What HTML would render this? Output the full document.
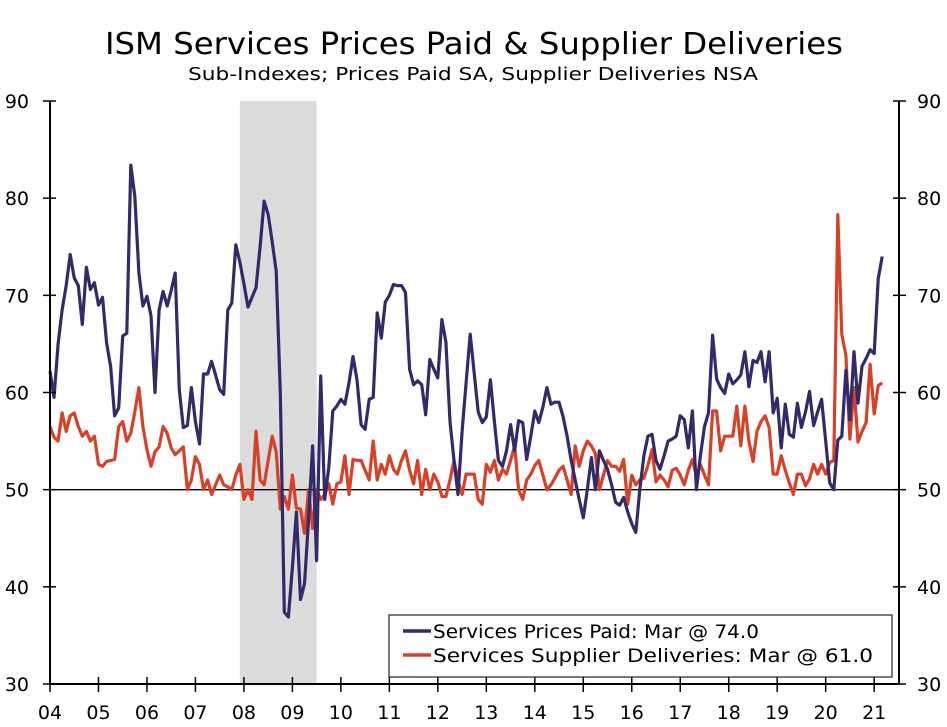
<!DOCTYPE html>
<html><head><meta charset="utf-8"><style>
html,body{margin:0;padding:0;background:#fff;}
svg{display:block;font-family:"DejaVu Sans","Liberation Sans",sans-serif;}
</style></head><body>
<svg id="chart" width="947" height="727" viewBox="0 0 947 727">
<text x="474" y="54" text-anchor="middle" font-size="30" textLength="738" lengthAdjust="spacingAndGlyphs" fill="#000">ISM Services Prices Paid &amp; Supplier Deliveries</text>
<text x="473" y="80" text-anchor="middle" font-size="18" textLength="570" lengthAdjust="spacingAndGlyphs" fill="#000">Sub-Indexes; Prices Paid SA, Supplier Deliveries NSA</text>
<g id="plot"></g>
</svg>
<script>
const startYear = 2004;
const yTicks = [30, 40, 50, 60, 70, 80, 90];
const xTickLabels = ["04","05","06","07","08","09","10","11","12","13","14","15","16","17","18","19","20","21"];
const recessionStart = 47; // month index Dec 2007
const recessionEnd = 66;   // month index Jun 2009
const pricesPaid = [
62.2,59.5,65,68.5,71,74.2,71.8,71,67,72.9,70.6,71.3,
69,69.8,65.1,62.7,57.6,58.4,65.8,66.1,83.4,80.2,72.3,68.9,
69.9,67.9,60,68.5,70.4,68.9,70.5,72.3,60.3,56.4,56.6,60.5,
57,54.7,61.9,61.9,63.2,61.8,60.3,59.8,68.5,69.2,75.2,73.4,
71.2,68.8,69.8,70.8,75,79.7,78.3,75.5,72.5,60,37.4,36.9,
42,47.7,38.7,40.3,47,54.5,42.7,61.7,49,52.3,58.1,58.6,
59.3,58.8,61,63.7,61.3,56.7,56.2,59.3,59.5,68.2,65.6,69.3,
70,71.1,71,71,70.3,62.4,60.8,61.2,60.8,57.7,63.4,62.4,
61.5,67.5,65.2,57,53,49.5,56,61,66,62,58,56.9,
57.5,61.3,57,53,52.4,54,56.7,54,57.1,56.9,53.1,55.5,
58.1,56.9,58.5,60.5,58.8,59,59,57.5,55.5,53,51,49,
47.1,50,53.3,50,54,53,52.1,50.5,48.7,48.4,49.2,47.7,
46.5,45.6,50,53.5,55.5,55.7,53,52.1,53.5,55,55.2,55.5,
57.6,57.2,54.3,58.1,50,53.5,56.5,57.9,65.9,61.4,60.5,59.9,
61.9,60.9,61.3,61.8,64.2,60.6,63.3,63.1,64.2,61.1,64.2,57.9,
59.4,54.3,58.8,55.7,55.4,58.9,56.4,58,60.1,56.6,58,59.3,
55,50.7,50,55.1,55.5,62.3,57.2,64.2,58.9,62.7,63.5,64.4,
64,71.7,74
];
const supplierDeliveries = [
56.5,55.4,55,57.9,56,57.6,57.9,56.5,55.5,56,55,55.5,
52.6,52.4,52.9,53,53.1,56.5,57,55,55.8,58,60.5,56.5,
54.1,52.4,53.9,54.4,56.5,55.8,54.3,53.6,54,54.4,50,51,
53.4,52.6,50,51,49.5,50.5,51.5,50.5,50.3,50,51.5,52.6,
49,50,49,56,51,50.5,53,55.5,53.9,48,49.3,48,
51.5,48.1,48,45.5,50,46,50,49,49.5,50.6,48.5,50.6,
50.8,53.5,49.5,53.1,53,53,52,51,55,51,52.6,51.6,
53.5,52.1,51.6,53,54,52,50.6,53,49.5,52.1,50,51.6,
50.8,49.3,49.3,51,53,51,49.5,51.6,51.6,51.6,49,48.5,
52.6,51.8,53,51,52.1,51.6,53,54.5,50,49,51,51.6,
52.5,53,51.5,50,50.5,51.2,52,52.4,51,49.5,54.5,52.4,
54,55,54.5,53.7,50,51.5,53,52.4,52.4,51.9,53.1,48.5,
51.5,50.5,51,51.2,52.5,54.1,50.8,51.5,51,50.3,52,52.2,
51.5,50.5,52,53.1,51.4,52.6,51.5,50.5,58.1,58.1,54,55.5,
55.5,55.5,58.6,54.5,58.6,55,52.9,56,57,57.6,56.4,51.6,
51.6,53.5,52,50.7,49.5,51.6,51.6,50.4,51.1,52.6,51.6,52.6,
51.6,52.8,53,78.3,66,63.8,55.2,60.5,54.9,56,56.9,62.9,
57.8,60.7,61
];

const NS = "http://www.w3.org/2000/svg";
const L = 50, R = 899, T = 101, B = 684;
const yMin = 30, yMax = 90;
const monthW = 4.04;
function xScale(m){ return L + m * monthW; }
function yScale(v){ return B - (v - yMin) / (yMax - yMin) * (B - T); }
const g = document.getElementById('plot');
function mk(tag, attrs){ const e = document.createElementNS(NS, tag); for (const k in attrs) e.setAttribute(k, attrs[k]); g.appendChild(e); return e; }

const rec = mk('rect', {x: xScale(recessionStart), y: T, width: xScale(recessionEnd) - xScale(recessionStart), height: B - T, fill: '#dcdcdc'});



const ref = mk('line', {x1: L, x2: R, y1: yScale(50), y2: yScale(50), stroke: '#000', 'stroke-width': 1.3});



function linePath(arr){ return arr.map((v,i)=> (i?'L':'M') + xScale(i).toFixed(1) + ',' + yScale(v).toFixed(1)).join(''); }
const red = mk('path', {d: linePath(supplierDeliveries), fill: 'none', stroke: '#d84027', 'stroke-width': 3.2, 'stroke-linejoin': 'round'});


const blue = mk('path', {d: linePath(pricesPaid), fill: 'none', stroke: '#322a6b', 'stroke-width': 3.2, 'stroke-linejoin': 'round'});



const axes = mk('path', {d: `M${L},${T}L${L},${B}L${R},${B}L${R},${T}`, fill: 'none', stroke: '#000', 'stroke-width': 2});



yTicks.forEach(v => {
  const y = yScale(v);
  const tl = mk('line', {x1: L-7, x2: L+6, y1: y, y2: y, stroke: '#000', 'stroke-width': 1.5});
  
  
  const tr = mk('line', {x1: R-6, x2: R+7, y1: y, y2: y, stroke: '#000', 'stroke-width': 1.5});
  
  
  const a = mk('text', {x: 29, y: y+7, 'text-anchor': 'end', 'font-size': 19});
  a.textContent = v;
  
  
  const b = mk('text', {x: 917, y: y+7, 'text-anchor': 'start', 'font-size': 19});
  b.textContent = v;
  
  
});

xTickLabels.forEach((lab, k) => {
  const x = xScale(k*12);
  const t = mk('line', {x1: x, x2: x, y1: B-7, y2: B+8, stroke: '#000', 'stroke-width': 1.5});
  
  
  const tx = mk('text', {x: x, y: 719, 'text-anchor': 'middle', 'font-size': 19});
  tx.textContent = lab;
  
  
});

const lg = mk('rect', {x: 389, y: 615, width: 503, height: 62, fill: '#fff', stroke: '#333', 'stroke-width': 1.3});


const entries = [['Services Prices Paid: Mar @ 74.0', '#322a6b', 638], ['Services Supplier Deliveries: Mar @ 61.0', '#d84027', 662]];
entries.forEach((e, i) => {
  const sw = mk('line', {x1: 403, x2: 431, y1: e[2]-7, y2: e[2]-7, stroke: e[1], 'stroke-width': 3.5});
  
  
  const t = mk('text', {x: 433, y: e[2], 'font-size': 19, textLength: i ? 440 : 326, lengthAdjust: 'spacingAndGlyphs'});
  t.textContent = e[0];
  
  
});
</script>
</body></html>
